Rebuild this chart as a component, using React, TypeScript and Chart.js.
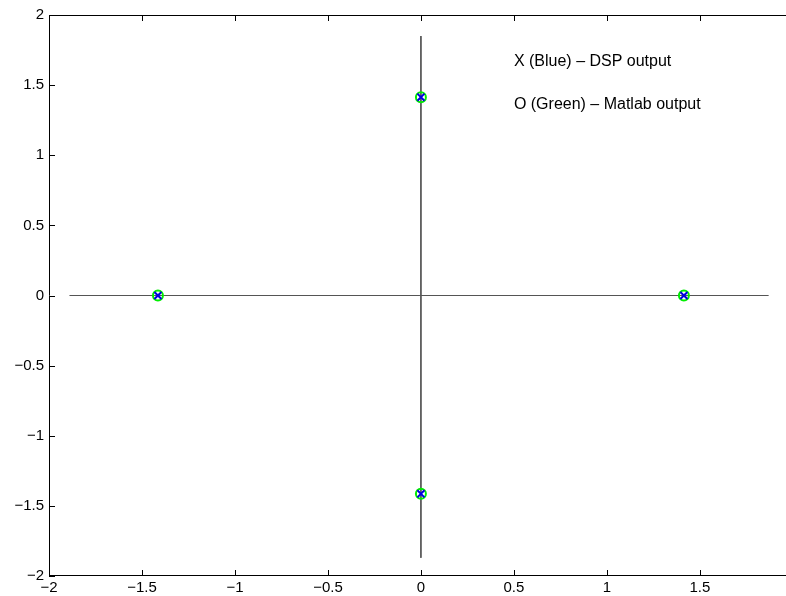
import React, { useEffect, useRef } from "react";
import { Chart, registerables } from "chart.js";

Chart.register(...registerables);

const dspX = [1.4142, 0, -1.4142, 0];
const dspY = [0, 1.4142, 0, -1.4142];
const matlabX = [1.4142, 0, -1.4142, 0];
const matlabY = [0, 1.4142, 0, -1.4142];

const hLineX = [-1.89, 1.87];
const hLineY = [0, 0];
const vLineX = [0, 0];
const vLineY = [1.85, -1.87];

const xTickLabels = ["−2", "−1.5", "−1", "−0.5", "0", "0.5", "1", "1.5", "2"];
const yTickLabels = ["−2", "−1.5", "−1", "−0.5", "0", "0.5", "1", "1.5", "2"];

const noteTexts = ["X (Blue) – DSP output", "O (Green) – Matlab output"];
const noteX = [0.5, 0.5];
const noteY = [1.665, 1.36];

const FONT = "'Liberation Sans', Arial, Helvetica, sans-serif";

const toPts = (xs: number[], ys: number[]) => xs.map((x, i) => ({ x, y: ys[i] }));

const framePlugin = {
  id: "matlabFrame",
  afterDatasetsDraw(chart: any) {
    const { ctx, chartArea, scales } = chart;
    const { left, right, top, bottom } = chartArea;
    ctx.save();
    ctx.strokeStyle = "#000";
    ctx.lineWidth = 1;
    ctx.beginPath();
    ctx.rect(left + 0.5, top + 0.5, right - left - 1, bottom - top - 1);
    ctx.stroke();
    const tl = 6;
    ctx.beginPath();
    scales.x.ticks.forEach((t: any) => {
      const px = Math.round(scales.x.getPixelForValue(t.value)) + 0.5;
      ctx.moveTo(px, bottom);
      ctx.lineTo(px, bottom - tl);
      ctx.moveTo(px, top);
      ctx.lineTo(px, top + tl);
    });
    scales.y.ticks.forEach((t: any) => {
      const py = Math.round(scales.y.getPixelForValue(t.value)) + 0.5;
      ctx.moveTo(left, py);
      ctx.lineTo(left + tl, py);
      ctx.moveTo(right, py);
      ctx.lineTo(right - tl, py);
    });
    ctx.stroke();
    ctx.fillStyle = "#000";
    ctx.font = `16px ${FONT}`;
    ctx.textAlign = "left";
    ctx.textBaseline = "middle";
    noteTexts.forEach((s, i) => {
      ctx.fillText(s, scales.x.getPixelForValue(noteX[i]), scales.y.getPixelForValue(noteY[i]));
    });
    ctx.restore();
  },
};

export default function App() {
  const ref = useRef<HTMLCanvasElement | null>(null);
  useEffect(() => {
    if (!ref.current) return;
    const chart = new Chart(ref.current, {
      type: "scatter",
      data: {
        datasets: [
          {
            label: "DSP",
            data: toPts(dspX, dspY),
            pointStyle: "crossRot",
            pointRadius: 5,
            pointBorderWidth: 2,
            pointBorderColor: "#0000e0",
            pointBackgroundColor: "#0000e0",
            showLine: false,
            order: 0,
          },
          {
            label: "Matlab",
            data: toPts(matlabX, matlabY),
            pointStyle: "circle",
            pointRadius: 5,
            pointBorderWidth: 2,
            pointBorderColor: "#00ee00",
            pointBackgroundColor: "rgba(0,0,0,0)",
            showLine: false,
            order: 1,
          },
          {
            label: "hline",
            data: toPts(hLineX, hLineY),
            showLine: true,
            borderColor: "#555",
            borderWidth: 1,
            pointRadius: 0,
            order: 2,
          },
          {
            label: "vline",
            data: toPts(vLineX, vLineY),
            showLine: true,
            borderColor: "#555",
            borderWidth: 1,
            pointRadius: 0,
            order: 3,
          },
        ],
      },
      options: {
        animation: false,
        responsive: false,
        devicePixelRatio: 1,
        layout: { padding: { top: 15, right: 7, left: 0, bottom: 0 } },
        plugins: { legend: { display: false }, tooltip: { enabled: false } },
        scales: {
          x: {
            type: "linear",
            min: -2,
            max: 2,
            grid: { display: false, drawTicks: false, tickLength: 0 },
            border: { display: false },
            ticks: {
              stepSize: 0.5,
              color: "#000",
              padding: 3,
              maxRotation: 0,
              autoSkip: false,
              font: { family: FONT, size: 15 },
              callback: (_v: any, i: number) => xTickLabels[i],
            },
            afterFit: (s: any) => {
              s.height = 20;
            },
          },
          y: {
            type: "linear",
            min: -2,
            max: 2,
            grid: { display: false, drawTicks: false, tickLength: 0 },
            border: { display: false },
            ticks: {
              stepSize: 0.5,
              color: "#000",
              padding: 5,
              autoSkip: false,
              font: { family: FONT, size: 15 },
              callback: (_v: any, i: number) => yTickLabels[i],
            },
            afterFit: (s: any) => {
              s.width = 49;
            },
          },
        },
      },
      plugins: [framePlugin],
    });
    return () => chart.destroy();
  }, []);
  return (
    <div
      style={{
        position: "absolute",
        left: 0,
        top: 0,
        width: 786,
        height: 596,
        overflow: "hidden",
        background: "#fff",
      }}
    >
      <canvas ref={ref} width={800} height={596} style={{ display: "block" }} />
    </div>
  );
}
